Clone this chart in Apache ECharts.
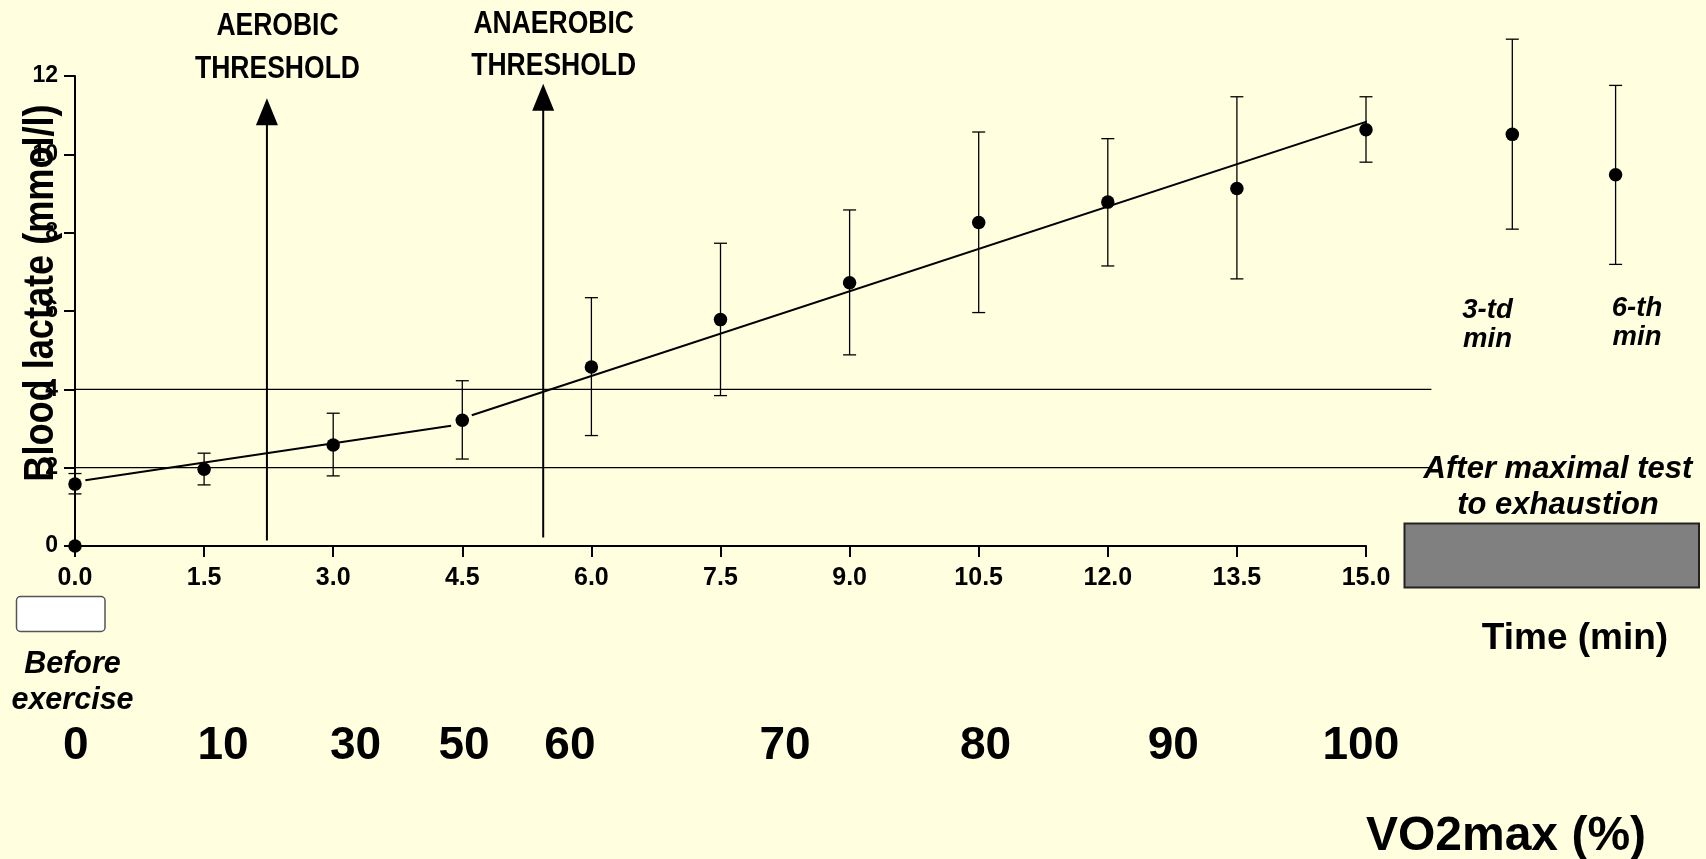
<!DOCTYPE html>
<html><head><meta charset="utf-8">
<script src="https://cdn.jsdelivr.net/npm/echarts@6/dist/echarts.min.js"></script>
<style>html,body{margin:0;padding:0;background:#ffffe0;}#c{width:1706px;height:859px;}</style>
</head><body><div id="c"></div>
<script>
// ---- data ----
const timeMin      = [0, 1.5, 3, 4.5, 6, 7.5, 9, 10.5, 12, 13.5, 15];
const lactateMean  = [1.58, 1.96, 2.58, 3.21, 4.57, 5.78, 6.72, 8.26, 8.78, 9.13, 10.63];
const lactateLow   = [1.33, 1.56, 1.79, 2.22, 2.82, 3.84, 4.88, 5.96, 7.15, 6.82, 9.80];
const lactateHigh  = [1.85, 2.37, 3.39, 4.22, 6.34, 7.73, 8.58, 10.57, 10.40, 11.47, 11.47];
const recoveryNames = ['3-td\nmin', '6-th\nmin'];
const recoveryPos   = [16.7, 17.9];
const recoveryMean  = [10.51, 9.48];
const recoveryLow   = [8.09, 7.19];
const recoveryHigh  = [12.94, 11.76];
const baselinePoint = [[0, 0]];
const fitAerobic    = [[0.12, 1.68], [4.37, 3.07]];
const fitAnaerobic  = [[4.61, 3.34], [15.22, 10.99]];
const refLevels     = [2, 4];
const refLineEnd    = 15.76;
const thresholdNames = ['AEROBIC\nTHRESHOLD', 'ANAEROBIC\nTHRESHOLD'];
const thresholdX     = [2.23, 5.44];
const thresholdFrom  = [0.14, 0.22];
const thresholdTo    = [11.43, 11.8];
const vo2Labels = ['0', '10', '30', '50', '60', '70', '80', '90', '100'];
const vo2Pos    = [0.01, 1.72, 3.26, 4.52, 5.75, 8.25, 10.58, 12.76, 14.94];
const yTicks = [0, 2, 4, 6, 8, 10, 12];

// ---- layout constants (pixels) ----
const thresholdLabelXY = [[277.5, 48], [553.7, 45.5]];
const recoveryLabelXY  = [[1487.5, 325], [1637, 323]];

const F = '"Liberation Sans", Arial, sans-serif';

const chart = echarts.init(document.getElementById('c'), null, {renderer: 'canvas'});

const meanData = timeMin.map((t, i) => [t, lactateMean[i]]);
const errData = timeMin.map((t, i) => [t, lactateLow[i], lactateHigh[i]])
  .concat(recoveryPos.map((t, i) => [t, recoveryLow[i], recoveryHigh[i]]));
const recData = recoveryPos.map((t, i) => [t, recoveryMean[i]]);
const thrData = thresholdX.map((x, i) => [x, thresholdFrom[i], thresholdTo[i]]);

function errItem(params, api) {
  const x = api.value(0);
  const lo = api.coord([x, api.value(1)]);
  const hi = api.coord([x, api.value(2)]);
  const w = 6.5;
  const st = {stroke: '#000', lineWidth: 1.3};
  return {type: 'group', children: [
    {type: 'line', shape: {x1: lo[0], y1: lo[1], x2: hi[0], y2: hi[1]}, style: st},
    {type: 'line', shape: {x1: lo[0]-w, y1: lo[1], x2: lo[0]+w, y2: lo[1]}, style: st},
    {type: 'line', shape: {x1: hi[0]-w, y1: hi[1], x2: hi[0]+w, y2: hi[1]}, style: st}
  ]};
}

function thrItem(params, api) {
  const x = api.value(0);
  const b = api.coord([x, api.value(1)]);
  const t = api.coord([x, api.value(2)]);
  const hw = 11, hh = 27;
  return {type: 'group', children: [
    {type: 'line', shape: {x1: b[0], y1: b[1], x2: t[0], y2: t[1] + hh - 2}, style: {stroke: '#000', lineWidth: 2}},
    {type: 'polygon', shape: {points: [[t[0], t[1]], [t[0]-hw, t[1]+hh], [t[0]+hw, t[1]+hh]]}, style: {fill: '#000'}}
  ]};
}

function refItem(params, api) {
  const a = api.coord([0, api.value(0)]);
  const b = api.coord([refLineEnd, api.value(0)]);
  return {type: 'line', shape: {x1: a[0], y1: a[1], x2: b[0], y2: b[1]}, style: {stroke: '#000', lineWidth: 1.2}};
}

function vo2Item(params, api) {
  const p = api.coord([api.value(0), 0]);
  return {type: 'text', style: {text: vo2Labels[params.dataIndex], x: p[0], y: 746, align: 'center', verticalAlign: 'middle',
    font: 'bold 46px ' + F, fill: '#000'}};
}

const thresholdGraphics = thresholdNames.map((n, i) => ({
  type: 'text', x: thresholdLabelXY[i][0], y: thresholdLabelXY[i][1], scaleX: 0.855, z: 10,
  style: {text: n, x: 0, y: 0, align: 'center', verticalAlign: 'middle', lineHeight: 42.5, font: 'bold 31px ' + F, fill: '#000'}
}));
const recoveryGraphics = recoveryNames.map((n, i) => ({
  type: 'text', x: recoveryLabelXY[i][0], y: recoveryLabelXY[i][1], z: 10,
  style: {text: n, x: 0, y: 0, align: 'center', verticalAlign: 'middle', lineHeight: 29, font: 'italic bold 27.5px ' + F, fill: '#000'}
}));

const dotStyle = {color: '#000', opacity: 1};

chart.setOption({
  backgroundColor: '#ffffe0',
  animation: false,
  grid: {left: 75, right: 340, top: 76, bottom: 313, containLabel: false},
  xAxis: {
    type: 'value', min: 0, max: 15, interval: 1.5,
    axisLine: {lineStyle: {color: '#000', width: 2}},
    axisTick: {length: 11, lineStyle: {color: '#000', width: 2}},
    axisLabel: {formatter: v => v.toFixed(1), color: '#000', fontWeight: 'bold', fontSize: 25, fontFamily: F, margin: 20},
    splitLine: {show: false}
  },
  yAxis: {
    type: 'value', min: 0, max: 12, interval: 2,
    axisLine: {show: true, lineStyle: {color: '#000', width: 2}},
    axisTick: {show: true, length: 11, lineStyle: {color: '#000', width: 2}},
    axisLabel: {formatter: v => yTicks.includes(v) ? String(v) : '', color: '#000', fontWeight: 'bold', fontSize: 23, fontFamily: F, margin: 17},
    splitLine: {show: false}
  },
  graphic: [
    {type: 'text', x: 41.5, y: 293, rotation: Math.PI / 2, scaleX: 0.86, z: 10,
      style: {text: 'Blood lactate (mmol/l)', x: 0, y: 0, align: 'center', verticalAlign: 'middle', font: 'bold 42px ' + F, fill: '#000'}},
    {type: 'rect', shape: {x: 16.5, y: 596.5, width: 88.5, height: 35, r: 4}, style: {fill: '#ffffff', stroke: '#555', lineWidth: 1.5}},
    {type: 'text', x: 72.5, y: 682.5, style: {text: 'Before\nexercise', x: 0, y: 0, align: 'center', verticalAlign: 'middle', lineHeight: 36,
      font: 'italic bold 30.5px ' + F, fill: '#000'}},
    {type: 'rect', shape: {x: 1404.5, y: 523.5, width: 294.5, height: 64}, style: {fill: '#808080', stroke: '#222', lineWidth: 2}},
    {type: 'text', x: 1558, y: 487.5, style: {text: 'After maximal test\nto exhaustion', x: 0, y: 0, align: 'center', verticalAlign: 'middle', lineHeight: 36,
      font: 'italic bold 31px ' + F, fill: '#000'}},
    {type: 'text', x: 1575, y: 639, style: {text: 'Time (min)', x: 0, y: 0, align: 'center', verticalAlign: 'middle', font: 'bold 37px ' + F, fill: '#000'}},
    {type: 'text', x: 1506, y: 836.5, style: {text: 'VO2max (%)', x: 0, y: 0, align: 'center', verticalAlign: 'middle', font: 'bold 48px ' + F, fill: '#000'}}
  ].concat(thresholdGraphics, recoveryGraphics),
  series: [
    {type: 'custom', renderItem: refItem, data: refLevels.map(v => [v]), clip: false, silent: true, z: 1},
    {type: 'custom', renderItem: thrItem, data: thrData, clip: false, silent: true, z: 2},
    {type: 'line', data: fitAerobic, showSymbol: false, lineStyle: {color: '#000', width: 2}, clip: false, z: 3},
    {type: 'line', data: fitAnaerobic, showSymbol: false, lineStyle: {color: '#000', width: 2}, clip: false, z: 3},
    {type: 'custom', renderItem: errItem, data: errData, clip: false, silent: true, z: 4},
    {type: 'scatter', data: meanData, symbolSize: 13.5, itemStyle: dotStyle, clip: false, z: 5},
    {type: 'scatter', data: recData, symbolSize: 13.5, itemStyle: dotStyle, clip: false, z: 5},
    {type: 'scatter', data: baselinePoint, symbolSize: 13.5, itemStyle: dotStyle, clip: false, z: 5},
    {type: 'custom', renderItem: vo2Item, data: vo2Pos.map(v => [v]), clip: false, silent: true, z: 6}
  ]
});
</script>
</body></html>
